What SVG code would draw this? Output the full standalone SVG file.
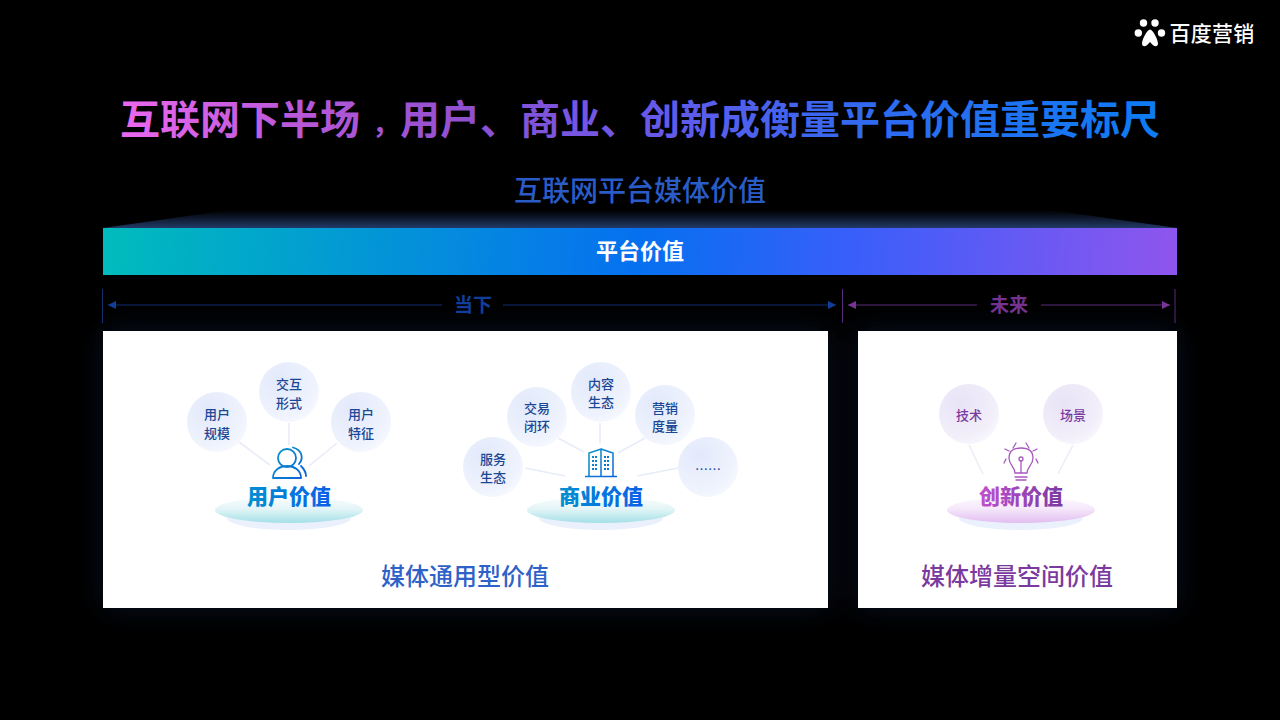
<svg xmlns="http://www.w3.org/2000/svg" width="1280" height="720" viewBox="0 0 1280 720">
<style>
text{font-family:"Noto Sans CJK SC","Noto Sans",sans-serif;text-anchor:middle}
.b{font-size:13px;font-weight:500;fill:#1a4796}
.p{font-size:13px;font-weight:500;fill:#7a3aa0}
.h{font-size:21px;font-weight:900}
.f{font-size:24px;font-weight:500}
.c{stroke-width:1.800;fill:none}
.bub{fill:url(#bub)}
.pub{fill:url(#pub)}
</style>
<defs>
<linearGradient id="title" gradientUnits="userSpaceOnUse" x1="120" y1="0" x2="1160" y2="0"><stop offset="0" stop-color="#ec68ee"/><stop offset=".17" stop-color="#b858d8"/><stop offset=".33" stop-color="#9050d0"/><stop offset=".5" stop-color="#6a58e8"/><stop offset=".72" stop-color="#2f6af0"/><stop offset="1" stop-color="#0d7cf2"/></linearGradient>
<linearGradient id="bar" gradientUnits="userSpaceOnUse" x1="103" y1="210" x2="1177" y2="295"><stop offset="0" stop-color="#00bcbc"/><stop offset=".5" stop-color="#0670f0"/><stop offset=".7" stop-color="#3a5efa"/><stop offset="1" stop-color="#9055ee"/></linearGradient>
<linearGradient id="roof" x1="0" y1="0" x2="0" y2="1"><stop offset="0" stop-color="#1f3560" stop-opacity="0"/><stop offset="1" stop-color="#223a68"/></linearGradient>
<radialGradient id="bub" cx=".35" cy=".3" r=".85"><stop offset="0" stop-color="#e2e9fb"/><stop offset=".7" stop-color="#eff3fd"/><stop offset="1" stop-color="#fbfcff"/></radialGradient>
<radialGradient id="pub" cx=".35" cy=".3" r=".85"><stop offset="0" stop-color="#e8e3f6"/><stop offset=".7" stop-color="#f2effa"/><stop offset="1" stop-color="#fcfbff"/></radialGradient>
<linearGradient id="disc" x1="0" y1="0" x2="0" y2="1"><stop offset="0" stop-color="#fafdfd"/><stop offset=".45" stop-color="#e4f5f7"/><stop offset="1" stop-color="#a3e0e6"/></linearGradient>
<linearGradient id="discp" x1="0" y1="0" x2="0" y2="1"><stop offset="0" stop-color="#fdfafe"/><stop offset=".45" stop-color="#f5e8fa"/><stop offset="1" stop-color="#e2bdf0"/></linearGradient>
<linearGradient id="hb" x1="0" y1="0" x2="1" y2="0"><stop offset="0" stop-color="#0090d0"/><stop offset="1" stop-color="#0a60e8"/></linearGradient>
<linearGradient id="hp" x1="0" y1="0" x2="1" y2="0"><stop offset="0" stop-color="#c050d0"/><stop offset="1" stop-color="#7a3aa0"/></linearGradient>
<linearGradient id="icb" gradientUnits="userSpaceOnUse" x1="272" y1="447" x2="307" y2="478"><stop offset="0" stop-color="#0a98c8"/><stop offset="1" stop-color="#0a60d8"/></linearGradient>
<linearGradient id="icc" gradientUnits="userSpaceOnUse" x1="585" y1="448" x2="617" y2="477"><stop offset="0" stop-color="#0a98c8"/><stop offset="1" stop-color="#0a60d8"/></linearGradient>
<filter id="gl" x="-10%" y="-20%" width="120%" height="140%"><feGaussianBlur stdDeviation="14"/></filter>
<marker id="ab" viewBox="0 0 8 8" refX="8" refY="4" markerWidth="8" markerHeight="8" markerUnits="userSpaceOnUse" orient="auto-start-reverse"><path d="M0 0L8 4L0 8Z" fill="#0f3f9a"/></marker>
<marker id="ap" viewBox="0 0 8 8" refX="8" refY="4" markerWidth="8" markerHeight="8" markerUnits="userSpaceOnUse" orient="auto-start-reverse"><path d="M0 0L8 4L0 8Z" fill="#7a3498"/></marker>
</defs>
<rect width="1280" height="720" fill="#000"/>
<g id="glow" filter="url(#gl)" opacity=".35"><rect x="103" y="331" width="725" height="277" fill="#16305f"/><rect x="858" y="331" width="319" height="277" fill="#16305f"/></g>
<g id="logo" fill="#fff">
<circle cx="1138.300" cy="33" r="3.700"/><circle cx="1143.500" cy="23" r="3.700"/><circle cx="1155" cy="23" r="3.700"/><circle cx="1161.500" cy="33" r="3.700"/>
<path d="M1150 29.500C1153 29.500 1158 40 1158 43.500C1158 47 1154 47.500 1150 42C1146 47.500 1142 47 1142 43.500C1142 40 1147 29.500 1150 29.500Z"/>
<text x="1212" y="41" font-size="21" font-weight="500" letter-spacing=".3" fill="#fff">百度营销</text>
</g>
<text id="title" x="640" y="134" font-size="40" font-weight="700" fill="url(#title)">互联网下半场<tspan dx="12" font-size="28">，</tspan>用户、商业、创新成衡量平台价值重要标尺</text>
<text id="subtitle" x="640" y="201" font-size="28" font-weight="500" fill="#2a5cc8">互联网平台媒体价值</text>
<g id="bar-node">
<polygon points="103,228 230,210 1050,210 1177,228" fill="url(#roof)"/>
<rect x="103" y="228" width="1074" height="47" fill="url(#bar)"/>
<text x="640" y="259" font-size="22" font-weight="700" fill="#fff">平台价值</text>
</g>
<g id="connectors" fill="none" stroke-width="1">
<path d="M102.500 289V323" stroke="#14306e"/>
<path d="M108 305H442" marker-start="url(#ab)" stroke="#0f2f72"/>
<path d="M503 305H836" marker-end="url(#ab)" stroke="#0f2f72"/>
<path d="M842.500 289V323M1175 289V323" stroke="#5a2a7a"/>
<path d="M848 305H977" marker-start="url(#ap)" stroke="#5a2a7a"/>
<path d="M1041 305H1170" marker-end="url(#ap)" stroke="#5a2a7a"/>
</g>
<text id="now" x="473" y="312" font-size="19" font-weight="700" fill="#0f3f9a">当下</text>
<text id="future" x="1009" y="312" font-size="19" font-weight="700" fill="#75338f">未来</text>
<g id="panel-left"><rect x="103" y="331" width="725" height="277" fill="#fff"/></g>
<g id="panel-right"><rect x="858" y="331" width="319" height="277" fill="#fff"/></g>
<g id="spokes" stroke-width="1.600" fill="none">
<g stroke="#e8ecf9"><path d="M239 442L270 465"/><path d="M289 423V445"/><path d="M337 443L309 466"/>
<path d="M525 468L565 476"/><path d="M558 438L584 452"/><path d="M600 423V443"/><path d="M645 438L618 453"/><path d="M678 468L637 476"/></g>
<g stroke="#eeebf6"><path d="M969 445L983 474"/><path d="M1073 445L1058 474"/></g>
</g>
<g id="user-value">
<ellipse cx="289" cy="518" rx="62" ry="12" fill="#eaf0fc"/><ellipse cx="289" cy="510" rx="74" ry="13" fill="url(#disc)"/>
<circle cx="217" cy="422" r="30" class="bub"/><text class="b" x="217" y="419">用户</text><text class="b" x="217" y="438">规模</text>
<circle cx="289" cy="392" r="30" class="bub"/><text class="b" x="289" y="389">交互</text><text class="b" x="289" y="408">形式</text>
<circle cx="361" cy="422" r="30" class="bub"/><text class="b" x="361" y="419">用户</text><text class="b" x="361" y="438">特征</text>
<g stroke="url(#icb)" class="c" stroke-linecap="round" stroke-linejoin="round"><circle cx="287" cy="458" r="9"/><path d="M273 478C273 462 301 462 301 478Z"/><path d="M293 447.500C302 450 304 458 299 464M301 466C304 469 306 472 306 476"/></g>
<text class="h" x="289" y="504" fill="url(#hb)">用户价值</text>
</g>
<g id="business-value">
<ellipse cx="601" cy="518" rx="62" ry="12" fill="#eaf0fc"/><ellipse cx="601" cy="510" rx="74" ry="13" fill="url(#disc)"/>
<circle cx="493" cy="467" r="30" class="bub"/><text class="b" x="493" y="464">服务</text><text class="b" x="493" y="482">生态</text>
<circle cx="537" cy="417" r="30" class="bub"/><text class="b" x="537" y="413">交易</text><text class="b" x="537" y="431">闭环</text>
<circle cx="601" cy="392" r="30" class="bub"/><text class="b" x="601" y="389">内容</text><text class="b" x="601" y="407">生态</text>
<circle cx="665" cy="415" r="30" class="bub"/><text class="b" x="665" y="413">营销</text><text class="b" x="665" y="431">度量</text>
<circle cx="708" cy="467" r="30" class="bub"/><text x="708" y="474" font-size="13" fill="#1d4a9c">……</text>
<g stroke="url(#icc)" fill="none" stroke-width="1.500"><path d="M589 476V453L601 449V476M601 449L613 453V476M585 476.500H617"/><path d="M592 457h6M592 461h6M592 465h6M592 469h6M604 457h6M604 461h6M604 465h6M604 469h6" stroke-width="2.200" stroke-dasharray="2 1"/></g>
<text class="h" x="601" y="504" fill="url(#hb)">商业价值</text>
</g>
<g id="innovation-value">
<ellipse cx="1021" cy="518" rx="62" ry="12" fill="#eaf0fc"/><ellipse cx="1021" cy="510" rx="74" ry="13" fill="url(#discp)"/>
<circle cx="969" cy="414" r="30" class="pub"/><text class="p" x="969" y="420">技术</text>
<circle cx="1073" cy="414" r="30" class="pub"/><text class="p" x="1073" y="420">场景</text>
<g stroke="#a858c0" fill="none" stroke-width="1.300" stroke-linecap="round"><path d="M1015 473C1015 467 1009 465 1009 458C1009 451 1014 448 1021 448C1028 448 1033 451 1033 458C1033 465 1027 467 1027 473Z"/><path d="M1015 477H1027M1016 480H1026M1021 473V461"/><circle cx="1021" cy="459" r="2"/><path d="M1016 443L1013 448M1026 443L1029 448M1033 451L1037 449M1009 451L1005 449M1036 459L1038 463M1006 459L1004 463"/></g>
<text class="h" x="1021" y="504" fill="url(#hp)">创新价值</text>
</g>
<text id="left-label" class="f" x="465" y="585" fill="#2f62c8">媒体通用型价值</text>
<text id="right-label" class="f" x="1017" y="585" fill="#7a3aa0">媒体增量空间价值</text>
</svg>
